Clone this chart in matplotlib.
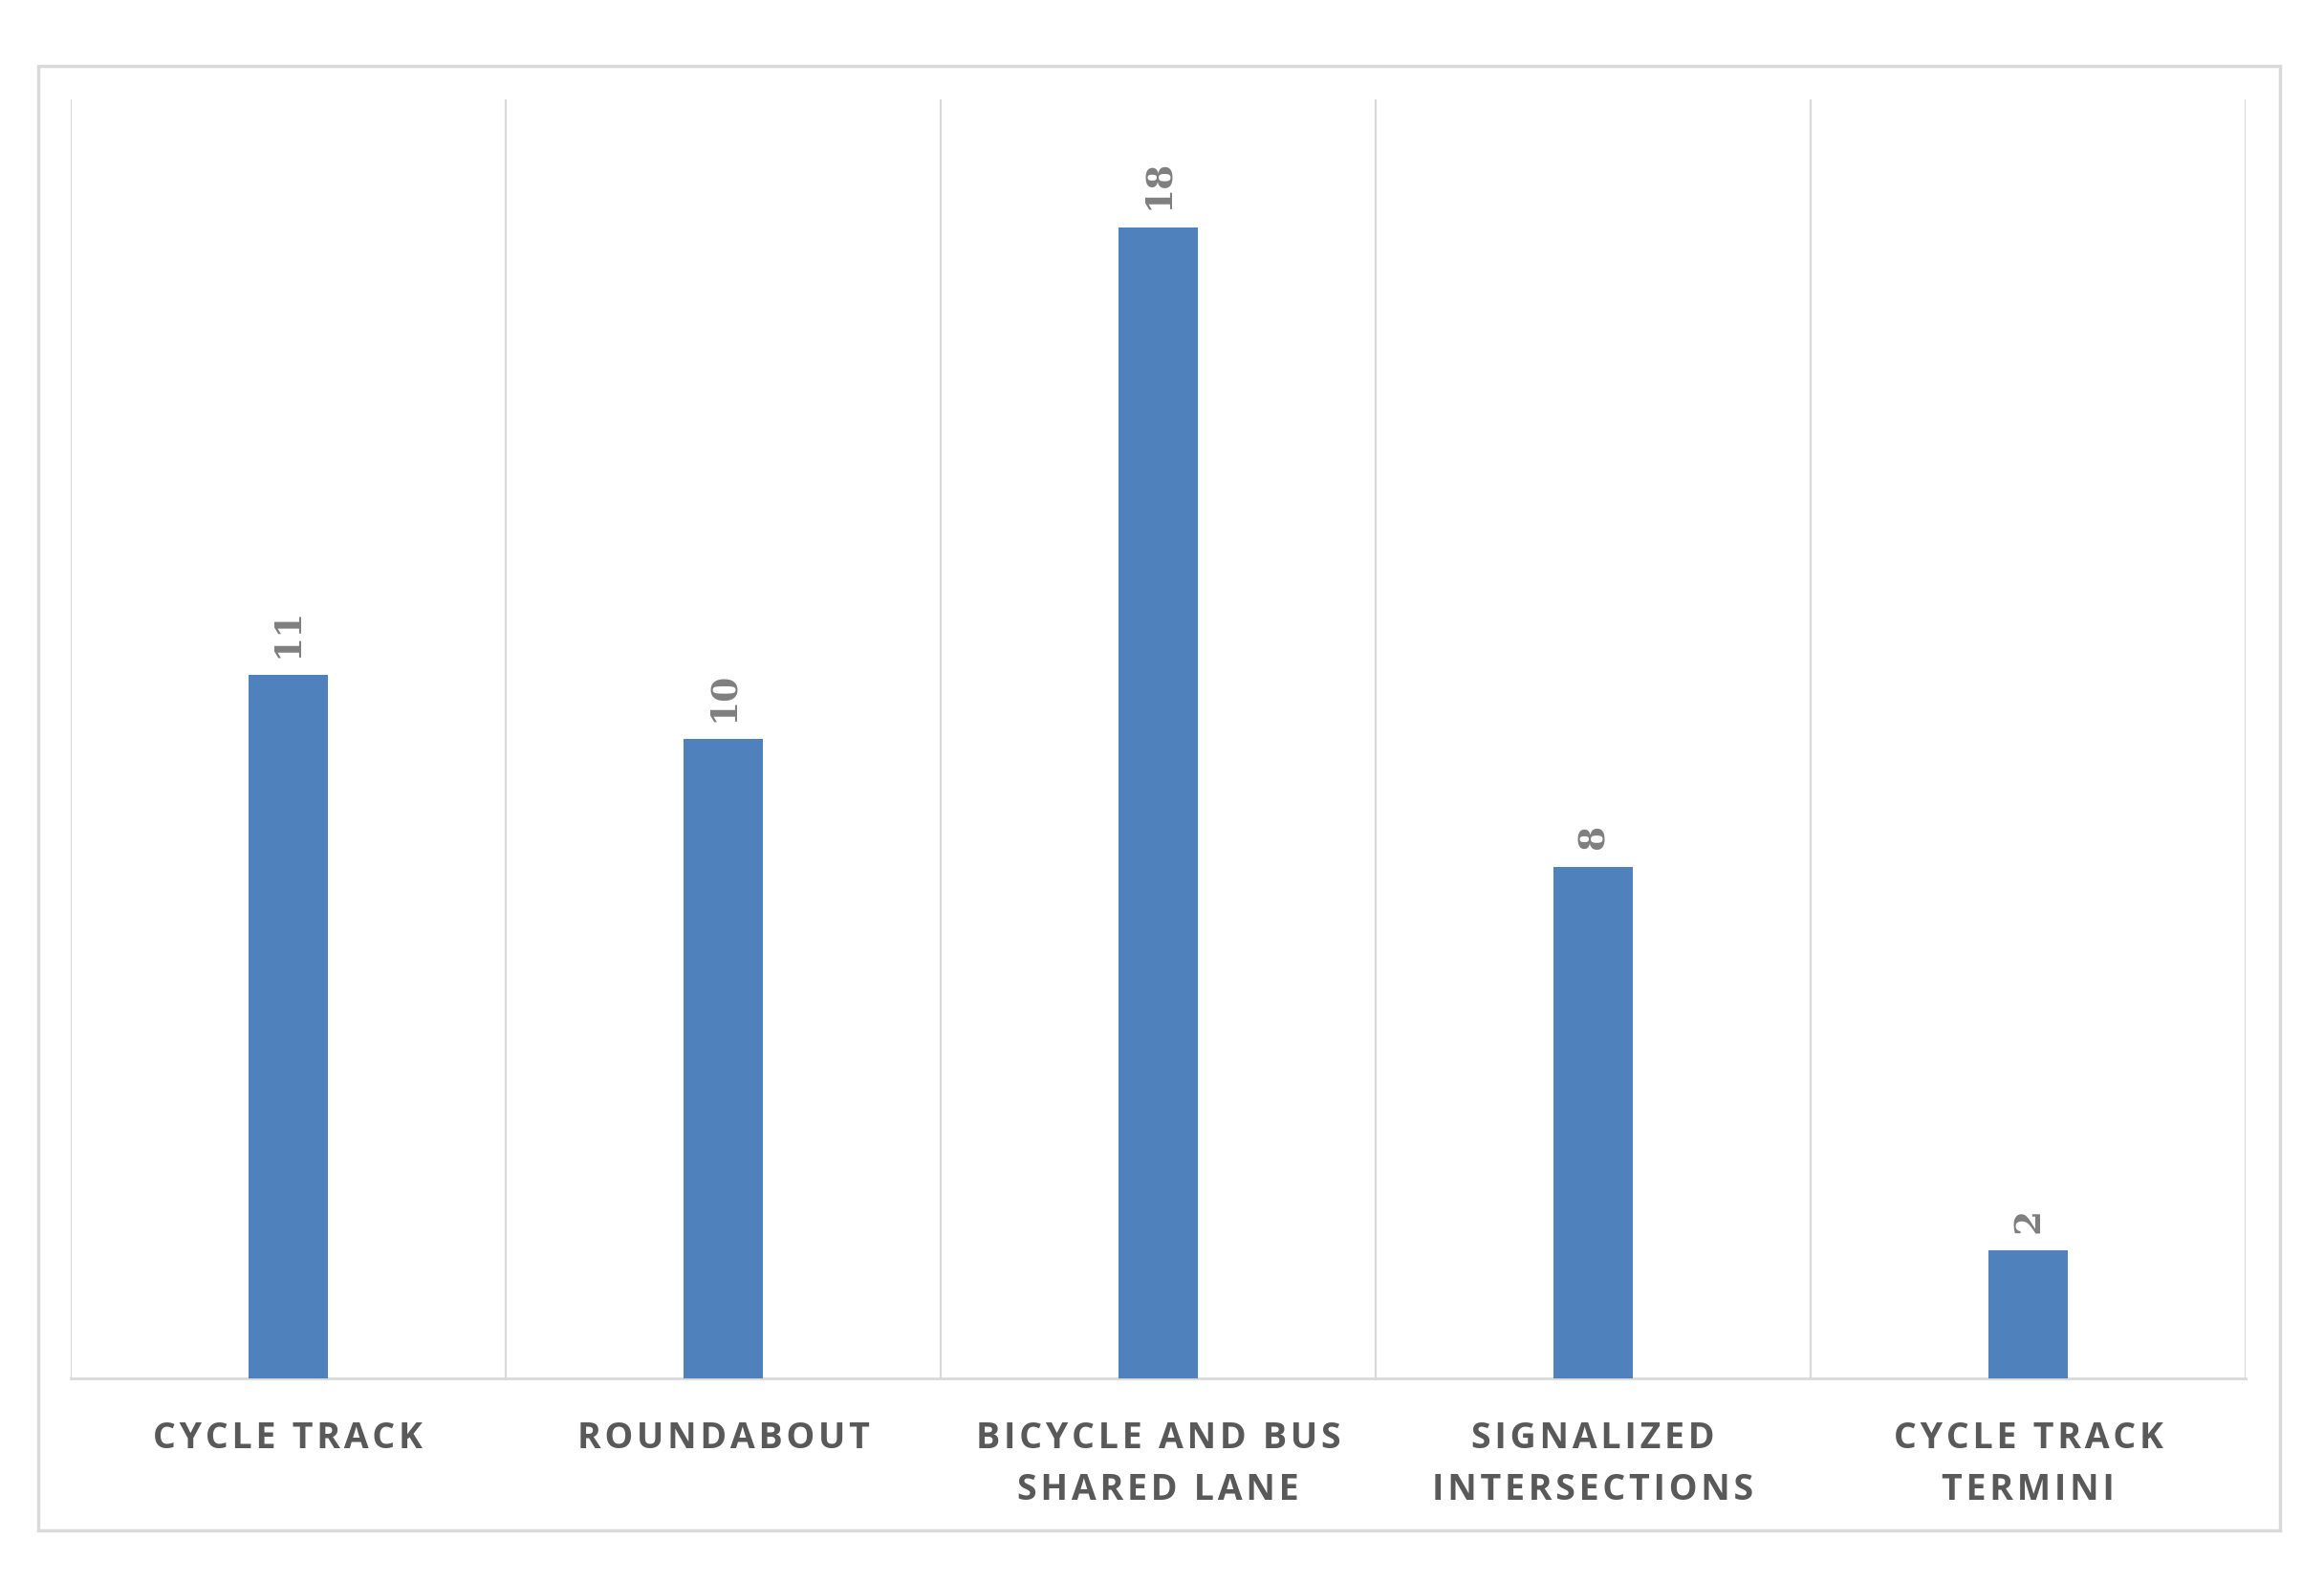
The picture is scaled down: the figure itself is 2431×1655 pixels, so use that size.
import numpy as np
import matplotlib.pyplot as plt
from matplotlib.patches import Rectangle

categories = ["CYCLE TRACK", "ROUNDABOUT", "BICYCLE AND BUS\nSHARED LANE",
              "SIGNALIZED\nINTERSECTIONS", "CYCLE TRACK\nTERMINI"]
counts = [11, 10, 18, 8, 2]

BAR_BLUE = "#4F81BD"
GRID_GRAY = "#D9D9D9"
LABEL_GRAY = "#595959"
VALUE_GRAY = "#7F7F7F"


def spaced(s, gap="\u200a"):
    # mimic the wide letter spacing of the original labels
    return "\n".join(gap.join(line) for line in s.split("\n"))


fig = plt.figure(figsize=(24.31, 16.56), dpi=100)
ax = fig.add_axes([0.0304, 0.1286, 0.9359, 0.808])

# outer chart border
fig.patches.append(Rectangle((0.0165, 0.0326), 0.9645, 0.9251, transform=fig.transFigure,
                             fill=False, edgecolor=GRID_GRAY, linewidth=2.5))

x = np.arange(len(categories))
bars = ax.bar(x, counts, width=0.184, color=BAR_BLUE, zorder=3)

ax.set_xlim(-0.5, len(categories) - 0.5)
ax.set_ylim(0, 20)
ax.set_yticks([])

# vertical separators between categories
ax.set_xticks(np.arange(-0.5, len(categories)), minor=True)
ax.grid(True, which="minor", axis="x", color=GRID_GRAY, linewidth=1.6)
ax.tick_params(axis="x", which="both", length=0)

ax.set_xticks(x)
ax.set_xticklabels([spaced(c) for c in categories], fontsize=27, fontweight="bold",
                   family=["Open Sans", "DejaVu Sans"], color=LABEL_GRAY,
                   linespacing=1.56, va="top")
ax.tick_params(axis="x", which="major", pad=31)

for s in ["top", "left", "right"]:
    ax.spines[s].set_visible(False)
ax.spines["bottom"].set_color(GRID_GRAY)
ax.spines["bottom"].set_linewidth(2)

for b, v in zip(bars, counts):
    ax.annotate(str(v), (b.get_x() + b.get_width() / 2, v), xytext=(0, 14),
                textcoords="offset points", rotation=90, ha="center", va="bottom",
                fontsize=27, fontweight="bold", family="DejaVu Serif", color=VALUE_GRAY)

fig.savefig("out.png", dpi=100, facecolor="white")
